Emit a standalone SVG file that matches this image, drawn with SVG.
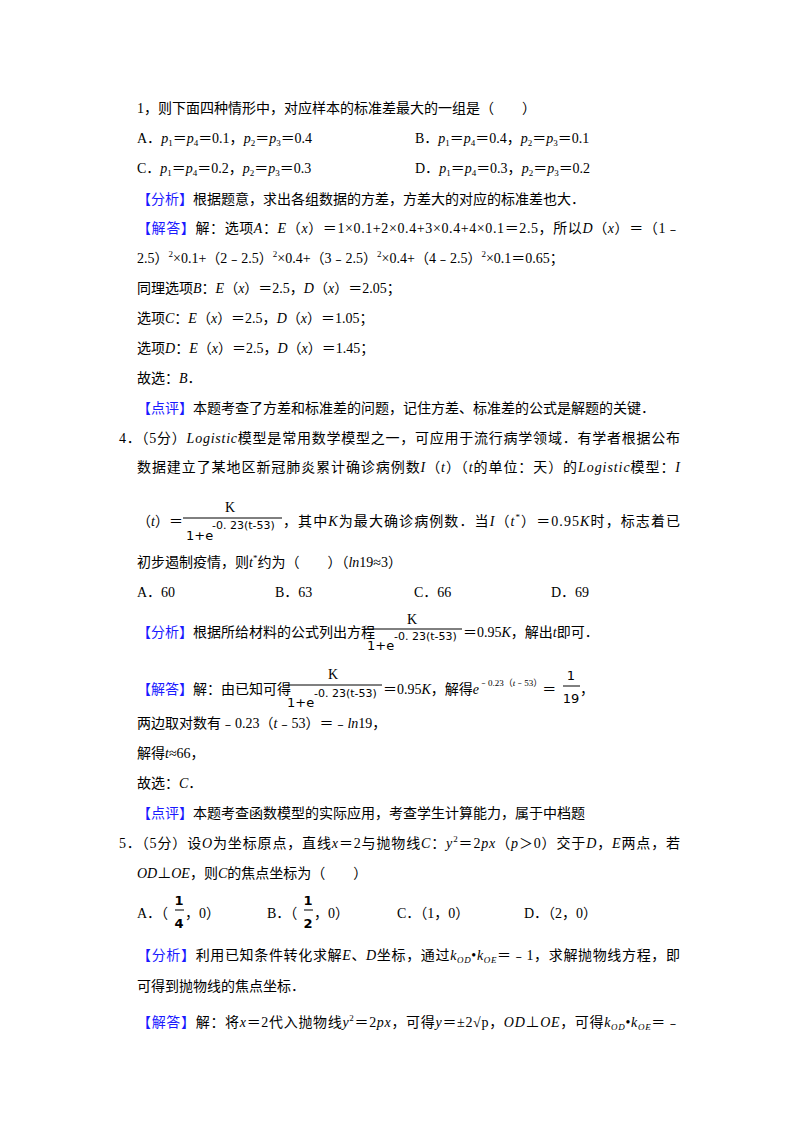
<svg xmlns="http://www.w3.org/2000/svg" width="800" height="1132" viewBox="0 0 800 1132">
<style>
text{font-family:"Liberation Serif","Noto Sans CJK SC",serif;font-size:14px;fill:#000}
.b{fill:#1a1aff}
.s{font-family:"DejaVu Sans","Liberation Sans",sans-serif;font-size:13px}
.ss{font-family:"DejaVu Sans","Liberation Sans",sans-serif;font-size:11px}
.sup{font-size:9px}
</style>
<rect width="800" height="1132" fill="#fff"/>
<g id="q3">
<text x="137" y="113">1，则下面四种情形中，对应样本的标准差最大的一组是（　　）</text>
<text x="137" y="143">A．<tspan font-style="italic">p</tspan><tspan font-size="9" dy="3">1</tspan><tspan dy="-3">＝</tspan><tspan font-style="italic">p</tspan><tspan font-size="9" dy="3">4</tspan><tspan dy="-3">＝0.1，</tspan><tspan font-style="italic">p</tspan><tspan font-size="9" dy="3">2</tspan><tspan dy="-3">＝</tspan><tspan font-style="italic">p</tspan><tspan font-size="9" dy="3">3</tspan><tspan dy="-3">＝0.4</tspan></text>
<text x="415" y="143">B．<tspan font-style="italic">p</tspan><tspan font-size="9" dy="3">1</tspan><tspan dy="-3">＝</tspan><tspan font-style="italic">p</tspan><tspan font-size="9" dy="3">4</tspan><tspan dy="-3">＝0.4，</tspan><tspan font-style="italic">p</tspan><tspan font-size="9" dy="3">2</tspan><tspan dy="-3">＝</tspan><tspan font-style="italic">p</tspan><tspan font-size="9" dy="3">3</tspan><tspan dy="-3">＝0.1</tspan></text>
<text x="137" y="173">C．<tspan font-style="italic">p</tspan><tspan font-size="9" dy="3">1</tspan><tspan dy="-3">＝</tspan><tspan font-style="italic">p</tspan><tspan font-size="9" dy="3">4</tspan><tspan dy="-3">＝0.2，</tspan><tspan font-style="italic">p</tspan><tspan font-size="9" dy="3">2</tspan><tspan dy="-3">＝</tspan><tspan font-style="italic">p</tspan><tspan font-size="9" dy="3">3</tspan><tspan dy="-3">＝0.3</tspan></text>
<text x="415" y="173">D．<tspan font-style="italic">p</tspan><tspan font-size="9" dy="3">1</tspan><tspan dy="-3">＝</tspan><tspan font-style="italic">p</tspan><tspan font-size="9" dy="3">4</tspan><tspan dy="-3">＝0.3，</tspan><tspan font-style="italic">p</tspan><tspan font-size="9" dy="3">2</tspan><tspan dy="-3">＝</tspan><tspan font-style="italic">p</tspan><tspan font-size="9" dy="3">3</tspan><tspan dy="-3">＝0.2</tspan></text>
<text x="137" y="204"><tspan class="b">【分析】</tspan>根据题意，求出各组数据的方差，方差大的对应的标准差也大．</text>
<text x="137" y="233" textLength="543"><tspan class="b">【解答】</tspan>解：选项<tspan font-style="italic">A</tspan>：<tspan font-style="italic">E</tspan>（<tspan font-style="italic">x</tspan>）＝1×0.1+2×0.4+3×0.4+4×0.1＝2.5，所以<tspan font-style="italic">D</tspan>（<tspan font-style="italic">x</tspan>）＝（1﹣</text>
<text x="137" y="263">2.5）<tspan font-size="9" dy="-6">2</tspan><tspan dy="6">×0.1+（2﹣2.5）</tspan><tspan font-size="9" dy="-6">2</tspan><tspan dy="6">×0.4+（3﹣2.5）</tspan><tspan font-size="9" dy="-6">2</tspan><tspan dy="6">×0.4+（4﹣2.5）</tspan><tspan font-size="9" dy="-6">2</tspan><tspan dy="6">×0.1＝0.65；</tspan></text>
<text x="137" y="293">同理选项<tspan font-style="italic">B</tspan>：<tspan font-style="italic">E</tspan>（<tspan font-style="italic">x</tspan>）＝2.5，<tspan font-style="italic">D</tspan>（<tspan font-style="italic">x</tspan>）＝2.05；</text>
<text x="137" y="323">选项<tspan font-style="italic">C</tspan>：<tspan font-style="italic">E</tspan>（<tspan font-style="italic">x</tspan>）＝2.5，<tspan font-style="italic">D</tspan>（<tspan font-style="italic">x</tspan>）＝1.05；</text>
<text x="137" y="353">选项<tspan font-style="italic">D</tspan>：<tspan font-style="italic">E</tspan>（<tspan font-style="italic">x</tspan>）＝2.5，<tspan font-style="italic">D</tspan>（<tspan font-style="italic">x</tspan>）＝1.45；</text>
<text x="137" y="383">故选：<tspan font-style="italic">B</tspan>．</text>
<text x="137" y="413"><tspan class="b">【点评】</tspan>本题考查了方差和标准差的问题，记住方差、标准差的公式是解题的关键．</text>
</g>
<g id="q4">
<text x="119" y="443" textLength="561">4．（5分）<tspan font-style="italic">Logistic</tspan>模型是常用数学模型之一，可应用于流行病学领域．有学者根据公布</text>
<text x="137" y="472" textLength="543">数据建立了某地区新冠肺炎累计确诊病例数<tspan font-style="italic">I</tspan>（<tspan font-style="italic">t</tspan>）（<tspan font-style="italic">t</tspan>的单位：天）的<tspan font-style="italic">Logistic</tspan>模型：<tspan font-style="italic">I</tspan></text>
<text x="137" y="526">（<tspan font-style="italic">t</tspan>）＝</text>
<line x1="183" y1="518" x2="282" y2="518" stroke="#000" stroke-width="1"/>
<text x="230" y="512" text-anchor="middle">K</text>
<text x="186" y="540" class="s">1+e</text>
<text x="212" y="529" class="ss">-0. 23(t-53)</text>
<text x="283" y="526" textLength="397">，其中<tspan font-style="italic">K</tspan>为最大确诊病例数．当<tspan font-style="italic">I</tspan>（<tspan font-style="italic">t</tspan><tspan font-size="9" dy="-6">*</tspan><tspan dy="6">）＝0.95</tspan><tspan font-style="italic">K</tspan>时，标志着已</text>
<text x="137" y="567">初步遏制疫情，则<tspan font-style="italic">t</tspan><tspan font-size="9" dy="-6">*</tspan><tspan dy="6">约为（　　）（</tspan><tspan font-style="italic">ln</tspan>19≈3）</text>
<text x="137" y="597">A．60</text>
<text x="275" y="597">B．63</text>
<text x="414" y="597">C．66</text>
<text x="551" y="597">D．69</text>
<text x="137" y="637"><tspan class="b">【分析】</tspan>根据所给材料的公式列出方程</text>
<line x1="365" y1="629" x2="462" y2="629" stroke="#000"/>
<text x="412" y="624" text-anchor="middle">K</text>
<text x="367" y="650" class="s">1+e</text>
<text x="394" y="640" class="ss">-0. 23(t-53)</text>
<text x="463" y="637">＝0.95<tspan font-style="italic">K</tspan>，解出<tspan font-style="italic">t</tspan>即可．</text>
<text x="137" y="694"><tspan class="b">【解答】</tspan>解：由已知可得</text>
<line x1="285" y1="685" x2="382" y2="685" stroke="#000"/>
<text x="333" y="679" text-anchor="middle">K</text>
<text x="287" y="707" class="s">1+e</text>
<text x="314" y="697" class="ss">-0. 23(t-53)</text>
<text x="383" y="694">＝0.95<tspan font-style="italic">K</tspan>，解得<tspan font-style="italic">e</tspan><tspan font-size="9" dy="-8">﹣0.23（<tspan font-style="italic">t</tspan>﹣53）</tspan><tspan dy="8">＝</tspan></text>
<line x1="563" y1="686" x2="580" y2="686" stroke="#000"/>
<text x="571" y="680" text-anchor="middle" class="s">1</text>
<text x="571" y="703" text-anchor="middle" class="s">19</text>
<text x="580" y="694">，</text>
<text x="137" y="728">两边取对数有﹣0.23（<tspan font-style="italic">t</tspan>﹣53）＝﹣<tspan font-style="italic">ln</tspan>19，</text>
<text x="137" y="758">解得<tspan font-style="italic">t</tspan>≈66，</text>
<text x="137" y="788">故选：<tspan font-style="italic">C</tspan>．</text>
<text x="137" y="818"><tspan class="b">【点评】</tspan>本题考查函数模型的实际应用，考查学生计算能力，属于中档题</text>
</g>
<g id="q5">
<text x="119" y="848" textLength="561">5．（5分）设<tspan font-style="italic">O</tspan>为坐标原点，直线<tspan font-style="italic">x</tspan>＝2与抛物线<tspan font-style="italic">C</tspan>：<tspan font-style="italic">y</tspan><tspan font-size="9" dy="-6">2</tspan><tspan dy="6">＝2</tspan><tspan font-style="italic">px</tspan>（<tspan font-style="italic">p</tspan>＞0）交于<tspan font-style="italic">D</tspan>，<tspan font-style="italic">E</tspan>两点，若</text>
<text x="137" y="878"><tspan font-style="italic">OD</tspan>⊥<tspan font-style="italic">OE</tspan>，则<tspan font-style="italic">C</tspan>的焦点坐标为（　　）</text>
<text x="137" y="918">A．（</text>
<line x1="175" y1="910" x2="184" y2="910" stroke="#000"/>
<text x="179" y="905" text-anchor="middle" class="s" font-weight="bold">1</text>
<text x="179" y="928" text-anchor="middle" class="s" font-weight="bold">4</text>
<text x="185" y="918">，0）</text>
<text x="267" y="918">B．（</text>
<line x1="304" y1="910" x2="313" y2="910" stroke="#000"/>
<text x="308" y="905" text-anchor="middle" class="s" font-weight="bold">1</text>
<text x="308" y="928" text-anchor="middle" class="s" font-weight="bold">2</text>
<text x="314" y="918">，0）</text>
<text x="397" y="918">C．（1，0）</text>
<text x="524" y="918">D．（2，0）</text>
<text x="137" y="960" textLength="543"><tspan class="b">【分析】</tspan>利用已知条件转化求解<tspan font-style="italic">E</tspan>、<tspan font-style="italic">D</tspan>坐标，通过<tspan font-style="italic">k</tspan><tspan font-size="9" font-style="italic" dy="3">OD</tspan><tspan dy="-3">•</tspan><tspan font-style="italic">k</tspan><tspan font-size="9" font-style="italic" dy="3">OE</tspan><tspan dy="-3">＝﹣1，求解抛物线方程，即</tspan></text>
<text x="137" y="991">可得到抛物线的焦点坐标．</text>
<text x="137" y="1027" textLength="543"><tspan class="b">【解答】</tspan>解：将<tspan font-style="italic">x</tspan>＝2代入抛物线<tspan font-style="italic">y</tspan><tspan font-size="9" dy="-6">2</tspan><tspan dy="6">＝2</tspan><tspan font-style="italic">px</tspan>，可得<tspan font-style="italic">y</tspan>＝±2√p，<tspan font-style="italic">OD</tspan>⊥<tspan font-style="italic">OE</tspan>，可得<tspan font-style="italic">k</tspan><tspan font-size="9" font-style="italic" dy="3">OD</tspan><tspan dy="-3">•</tspan><tspan font-style="italic">k</tspan><tspan font-size="9" font-style="italic" dy="3">OE</tspan><tspan dy="-3">＝﹣</tspan></text>
</g>
</svg>
